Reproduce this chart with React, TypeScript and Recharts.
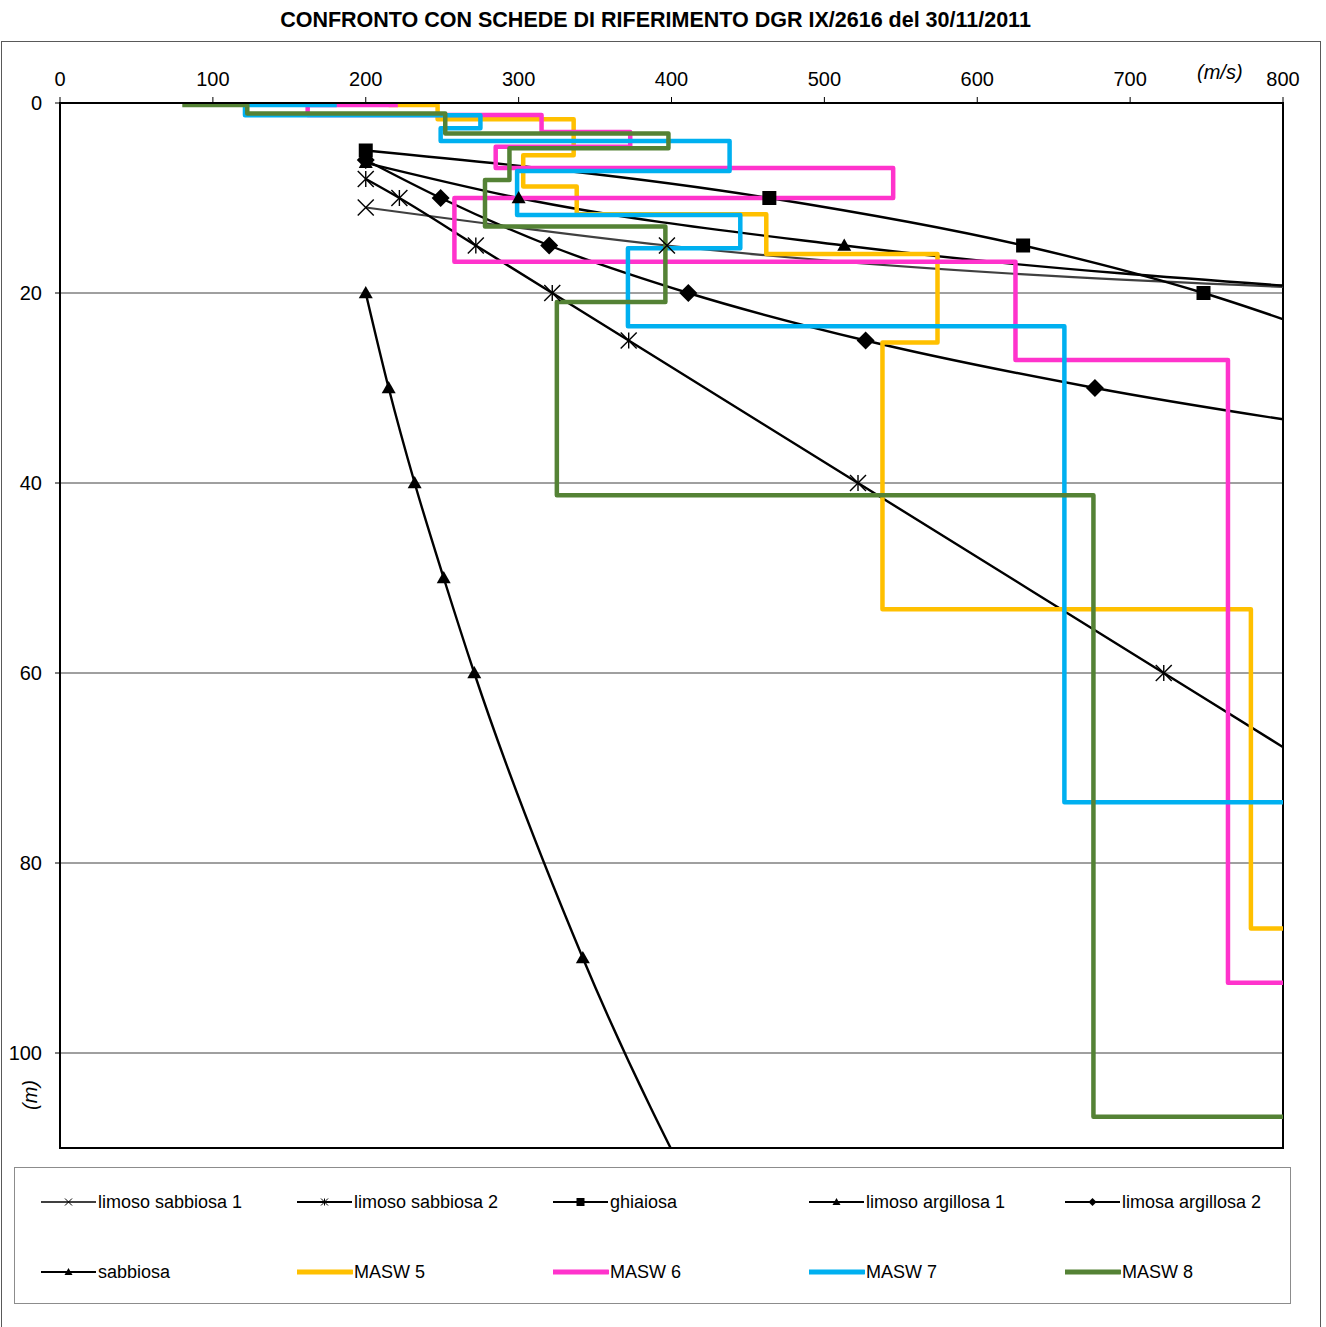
import React from 'react';
import { ComposedChart, Line, XAxis, YAxis, CartesianGrid, Legend, ReferenceArea } from 'recharts';

// Axis ticks
const velocityTicks = [0, 100, 200, 300, 400, 500, 600, 700, 800];
const depthTicks = [0, 20, 40, 60, 80, 100];

// Reference curves (x = Vs m/s, y = depth m)
const limosoSabbiosa1 = [
  { x: 200, y: 11 }, { x: 397, y: 15 }, { x: 900, y: 20 },
];
const limosoSabbiosa2 = [
  { x: 200, y: 8 }, { x: 222, y: 10 }, { x: 272, y: 15 }, { x: 322, y: 20 },
  { x: 372, y: 25 }, { x: 522, y: 40 }, { x: 722, y: 60 }, { x: 822, y: 70 },
];
const ghiaiosa = [
  { x: 200, y: 5 }, { x: 464, y: 10 }, { x: 630, y: 15 }, { x: 748, y: 20 }, { x: 840, y: 25 },
];
const limosoArgilloso1 = [
  { x: 200, y: 6.3 }, { x: 300, y: 10 }, { x: 513, y: 15 }, { x: 870, y: 20 },
];
const limosaArgillosa2 = [
  { x: 200, y: 6 }, { x: 249, y: 10 }, { x: 320, y: 15 }, { x: 411, y: 20 },
  { x: 527, y: 25 }, { x: 677, y: 30 }, { x: 870, y: 35 },
];
const sabbiosa = [
  { x: 200, y: 20 }, { x: 215, y: 30 }, { x: 232, y: 40 }, { x: 251, y: 50 },
  { x: 271, y: 60 }, { x: 342, y: 90 }, { x: 431, y: 120 },
];

// MASW step profiles
const masw5 = [
  { x: 215, y: 0.2 }, { x: 247, y: 0.2 }, { x: 247, y: 1.7 }, { x: 336, y: 1.7 },
  { x: 336, y: 5.5 }, { x: 303, y: 5.5 }, { x: 303, y: 8.8 }, { x: 338, y: 8.8 },
  { x: 338, y: 11.7 }, { x: 462, y: 11.7 }, { x: 462, y: 15.9 }, { x: 574, y: 15.9 },
  { x: 574, y: 25.2 }, { x: 538, y: 25.2 }, { x: 538, y: 53.3 }, { x: 779, y: 53.3 },
  { x: 779, y: 86.9 }, { x: 900, y: 86.9 },
];
const masw6 = [
  { x: 221, y: 0.2 }, { x: 162, y: 0.2 }, { x: 162, y: 1.26 }, { x: 315, y: 1.26 },
  { x: 315, y: 3.05 }, { x: 373, y: 3.05 }, { x: 373, y: 4.6 }, { x: 285, y: 4.6 },
  { x: 285, y: 6.84 }, { x: 545, y: 6.84 }, { x: 545, y: 10 }, { x: 258, y: 10 },
  { x: 258, y: 16.7 }, { x: 625, y: 16.7 }, { x: 625, y: 27.05 }, { x: 764, y: 27.05 },
  { x: 764, y: 92.6 }, { x: 900, y: 92.6 },
];
const masw7 = [
  { x: 181, y: 0.2 }, { x: 121, y: 0.2 }, { x: 121, y: 1.3 }, { x: 275, y: 1.3 },
  { x: 275, y: 2.65 }, { x: 249, y: 2.65 }, { x: 249, y: 4.0 }, { x: 438, y: 4.0 },
  { x: 438, y: 7.15 }, { x: 299, y: 7.15 }, { x: 299, y: 11.8 }, { x: 445, y: 11.8 },
  { x: 445, y: 15.3 }, { x: 371.5, y: 15.3 }, { x: 371.5, y: 23.5 }, { x: 657, y: 23.5 },
  { x: 657, y: 73.6 }, { x: 900, y: 73.6 },
];
const masw8 = [
  { x: 80, y: 0.2 }, { x: 122.5, y: 0.2 }, { x: 122.5, y: 1.1 }, { x: 252, y: 1.1 },
  { x: 252, y: 3.2 }, { x: 398, y: 3.2 }, { x: 398, y: 4.75 }, { x: 294, y: 4.75 },
  { x: 294, y: 8.1 }, { x: 278, y: 8.1 }, { x: 278, y: 13.0 }, { x: 396, y: 13.0 },
  { x: 396, y: 20.95 }, { x: 325, y: 20.95 }, { x: 325, y: 41.3 }, { x: 676, y: 41.3 },
  { x: 676, y: 106.7 }, { x: 900, y: 106.7 },
];

type Kind = 'x' | 'asterisk' | 'square' | 'triangle' | 'diamond' | 'none';

const series = [
  { name: 'limoso sabbiosa 1', data: limosoSabbiosa1, color: '#404040', width: 2.2, kind: 'x' as Kind, size: 16, type: 'monotone' },
  { name: 'limoso sabbiosa 2', data: limosoSabbiosa2, color: '#000000', width: 2.4, kind: 'asterisk' as Kind, size: 16, type: 'monotone' },
  { name: 'ghiaiosa', data: ghiaiosa, color: '#000000', width: 2.4, kind: 'square' as Kind, size: 14, type: 'monotone' },
  { name: 'limoso argillosa 1', data: limosoArgilloso1, color: '#000000', width: 2.4, kind: 'triangle' as Kind, size: 14, type: 'monotone' },
  { name: 'limosa argillosa 2', data: limosaArgillosa2, color: '#000000', width: 2.4, kind: 'diamond' as Kind, size: 18, type: 'monotone' },
  { name: 'sabbiosa', data: sabbiosa, color: '#000000', width: 2.4, kind: 'triangle' as Kind, size: 14, type: 'monotone' },
  { name: 'MASW 5', data: masw5, color: '#FFC000', width: 4.5, kind: 'none' as Kind, size: 0, type: 'linear' },
  { name: 'MASW 6', data: masw6, color: '#FF33CC', width: 4.5, kind: 'none' as Kind, size: 0, type: 'linear' },
  { name: 'MASW 7', data: masw7, color: '#00B0F0', width: 4.5, kind: 'none' as Kind, size: 0, type: 'linear' },
  { name: 'MASW 8', data: masw8, color: '#548235', width: 4.5, kind: 'none' as Kind, size: 0, type: 'linear' },
];

function marker(kind: Kind, cx: number, cy: number, s: number, key: string, sw = 1.4) {
  const h = s / 2;
  if (cx == null || cy == null || isNaN(cx) || isNaN(cy) || kind === 'none') return <g key={key} />;
  switch (kind) {
    case 'x':
      return (
        <g key={key}>
          <line x1={cx - h} y1={cy - h} x2={cx + h} y2={cy + h} stroke="#000" strokeWidth={sw} />
          <line x1={cx - h} y1={cy + h} x2={cx + h} y2={cy - h} stroke="#000" strokeWidth={sw} />
        </g>
      );
    case 'asterisk':
      return (
        <g key={key}>
          <line x1={cx - h} y1={cy - h} x2={cx + h} y2={cy + h} stroke="#000" strokeWidth={sw} />
          <line x1={cx - h} y1={cy + h} x2={cx + h} y2={cy - h} stroke="#000" strokeWidth={sw} />
          <line x1={cx} y1={cy - h} x2={cx} y2={cy + h} stroke="#000" strokeWidth={sw} />
        </g>
      );
    case 'square':
      return <rect key={key} x={cx - h} y={cy - h} width={s} height={s} fill="#000" />;
    case 'triangle':
      return <polygon key={key} points={`${cx},${cy - h} ${cx + h},${cy + h * 0.75} ${cx - h},${cy + h * 0.75}`} fill="#000" />;
    case 'diamond':
      return <polygon key={key} points={`${cx},${cy - h} ${cx + h},${cy} ${cx},${cy + h} ${cx - h},${cy}`} fill="#000" />;
    default:
      return <g key={key} />;
  }
}

const legendSmall: Record<Kind, number> = { x: 7, asterisk: 7, square: 8, triangle: 8, diamond: 8, none: 0 };

const renderLegend = () => (
  <div style={{ position: 'relative', width: 1277, height: 137, border: '1px solid #8c8c8c', boxSizing: 'border-box', fontFamily: '"Liberation Sans", Arial, sans-serif' }}>
    {series.map((s, i) => {
      const col = i % 5;
      const row = Math.floor(i / 5);
      const left = 26 + col * 256;
      const top = (row === 0 ? 34 : 104) - 10;
      return (
        <div key={s.name} style={{ position: 'absolute', left, top, height: 20, display: 'flex', alignItems: 'center', whiteSpace: 'nowrap' }}>
          <svg width={56} height={20} style={{ display: 'block' }}>
            <line x1={0} y1={10} x2={55} y2={10} stroke={s.color} strokeWidth={s.width > 4 ? 5 : 2} strokeLinecap={s.width > 4 ? 'round' : 'butt'} />
            {marker(s.kind, 27.5, 10, legendSmall[s.kind], 'm', 1)}
          </svg>
          <span style={{ fontSize: 18, color: '#000', marginLeft: 1, lineHeight: '20px' }}>{s.name}</span>
        </div>
      );
    })}
  </div>
);

export default function App() {
  return (
    <div style={{ position: 'absolute', left: 0, top: 0, width: 1326, height: 1327, background: '#fff', overflow: 'hidden', fontFamily: '"Liberation Sans", Arial, sans-serif' }}>
      <div style={{ position: 'absolute', left: 0, top: 7, width: 1311, textAlign: 'center', fontWeight: 'bold', fontSize: 21.5, lineHeight: '26px', color: '#000' }}>
        CONFRONTO CON SCHEDE DI RIFERIMENTO DGR IX/2616 del 30/11/2011
      </div>
      <div style={{ position: 'absolute', left: 1, top: 41, width: 1320, height: 1300, border: '1px solid #595959', boxSizing: 'border-box' }} />
      <div style={{ position: 'absolute', left: 0, top: 0 }}>
        <ComposedChart width={1326} height={1327} margin={{ top: 43, left: 0, right: 43, bottom: 179 }}>
          <CartesianGrid horizontal vertical={false} stroke="#404040" strokeWidth={1} />
          <XAxis
            xAxisId={0}
            type="number"
            dataKey="x"
            orientation="top"
            domain={[0, 800]}
            ticks={velocityTicks}
            interval={0}
            allowDataOverflow
            height={60}
            tick={{ fill: '#000', fontSize: 20 }}
            tickSize={6}
            tickMargin={11}
            axisLine={{ stroke: '#000', strokeWidth: 2 }}
            tickLine={{ stroke: '#000' }}
          />
          <YAxis
            yAxisId={0}
            type="number"
            domain={[0, 110]}
            reversed
            ticks={depthTicks}
            interval={0}
            allowDataOverflow
            width={60}
            tick={{ fill: '#000', fontSize: 20 }}
            tickSize={5}
            tickMargin={13}
            axisLine={{ stroke: '#000', strokeWidth: 2 }}
            tickLine={{ stroke: '#000' }}
          />
          {series.map((s) => (
            <Line
              key={s.name}
              name={s.name}
              data={s.data}
              dataKey="y"
              type={s.type as any}
              stroke={s.color}
              strokeWidth={s.width}
              strokeLinejoin="round"
              dot={s.kind === 'none' ? false : (p: any) => marker(s.kind, p.cx, p.cy, s.size, `${s.name}-${p.index}`)}
              activeDot={false}
              isAnimationActive={false}
              legendType="none"
            />
          ))}
          <ReferenceArea x1={0} x2={800} y1={0} y2={110} fill="none" fillOpacity={0} stroke="#000" strokeWidth={2} ifOverflow="visible" />
          <Legend
            content={renderLegend}
            layout="horizontal"
            verticalAlign="middle"
            align="center"
            wrapperStyle={{ left: 14, top: 1167, width: 1277, height: 137 }}
          />
        </ComposedChart>
      </div>
      <div style={{ position: 'absolute', left: 1197, top: 60, fontSize: 20, fontStyle: 'italic', color: '#000', lineHeight: '24px' }}>(m/s)</div>
      <div style={{ position: 'absolute', left: 30, top: 1095, width: 0, height: 0 }}>
        <div style={{ position: 'absolute', left: -20, top: -12, width: 40, textAlign: 'center', fontSize: 20, fontStyle: 'italic', color: '#000', lineHeight: '24px', transform: 'rotate(-90deg)' }}>(m)</div>
      </div>
    </div>
  );
}
